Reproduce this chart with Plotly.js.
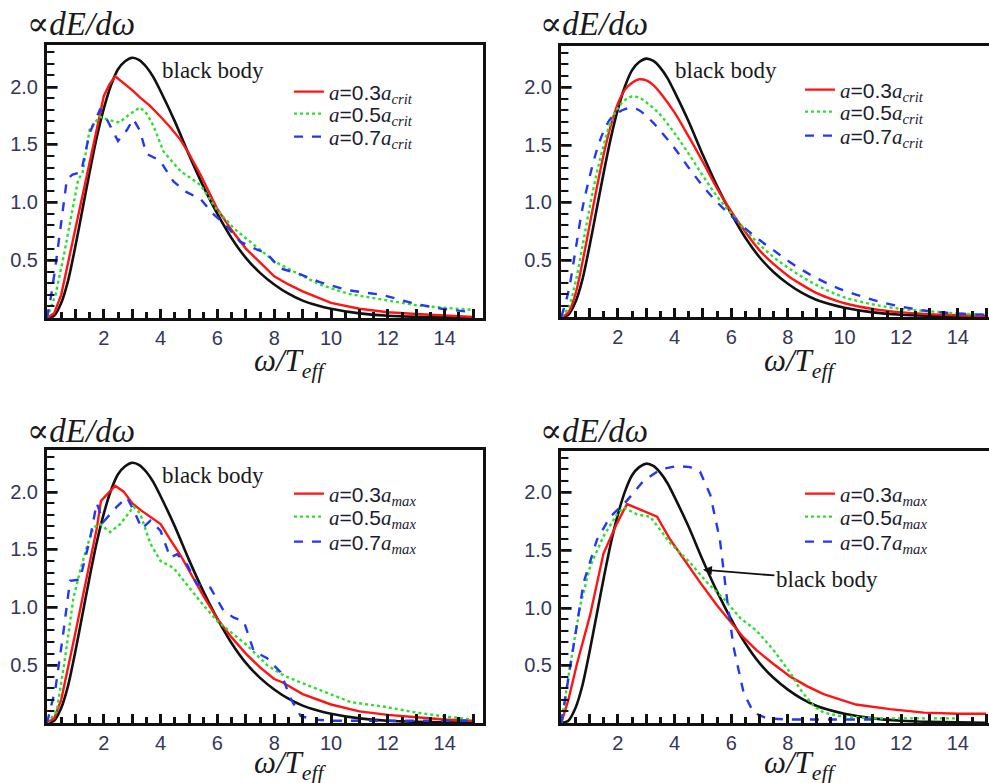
<!DOCTYPE html>
<html>
<head>
<meta charset="utf-8">
<script src="https://cdn.plot.ly/plotly-3.0.1.min.js"></script>
<style>html,body{margin:0;padding:0;background:#fff;}#chart{width:989px;height:783px;}</style>
</head>
<body>
<div id="chart"></div>
<script>
// ---------- data ----------
const bbX = [0,0.25,0.5,0.75,1,1.25,1.5,1.75,2,2.25,2.5,2.75,3,3.25,3.5,3.75,4,4.5,5,5.5,6,6.5,7,7.5,8,8.5,9,9.5,10,11,12,13,14,15];
const bbY = [0,0.02,0.13,0.33,0.62,0.94,1.26,1.56,1.81,2.01,2.15,2.22,2.25,2.23,2.17,2.08,1.96,1.70,1.41,1.14,0.90,0.69,0.52,0.39,0.29,0.21,0.15,0.11,0.08,0.04,0.02,0.01,0.005,0.002];

// panel 1 : a_crit (upper left)
const p1RedX = [0,0.25,0.5,0.75,1,1.25,1.5,1.75,2,2.2,2.4,2.7,3,3.3,3.6,4,4.3,4.7,5,5.4,6,6.5,7,7.5,8,8.5,9,9.5,10,11,12,13,14,15];
const p1RedY = [0,0.04,0.2,0.48,0.76,1.05,1.34,1.63,1.92,2.02,2.09,2.03,1.97,1.9,1.84,1.74,1.66,1.54,1.42,1.24,0.94,0.76,0.6,0.48,0.36,0.29,0.23,0.18,0.13,0.08,0.05,0.035,0.02,0.01];
const p1GreenX = [0,0.3,0.6,0.9,1.1,1.25,1.5,1.85,2.2,2.55,2.9,3.27,3.5,3.75,4.1,4.7,5.4,6,6.6,7.3,8,8.7,9.6,10.6,11.8,13,13.9,15];
const p1GreenY = [0,0.2,0.55,0.94,1.2,1.25,1.63,1.74,1.71,1.69,1.76,1.82,1.77,1.66,1.44,1.27,1.15,0.93,0.77,0.63,0.49,0.4,0.29,0.21,0.16,0.11,0.09,0.07];
const p1BlueX = [0,0.15,0.3,0.5,0.7,0.9,1.2,1.5,1.86,2.1,2.3,2.5,2.8,3.04,3.27,3.5,3.98,4.45,4.9,5.4,5.85,6.3,6.8,7.4,7.73,8.2,8.9,9.6,10.6,11.8,13,13.9,15];
const p1BlueY = [0,0.2,0.45,0.85,1.2,1.24,1.26,1.6,1.8,1.72,1.62,1.53,1.62,1.72,1.62,1.42,1.36,1.18,1.09,1.03,0.9,0.8,0.66,0.59,0.56,0.43,0.38,0.31,0.24,0.2,0.12,0.08,0.05];

// panel 2 : a_crit (upper right)
const p2X = [0,0.25,0.5,0.75,1,1.25,1.5,1.75,2,2.25,2.5,2.75,3,3.25,3.5,4,4.5,5,5.5,6,6.5,7,7.5,8,8.5,9,9.5,10,11,12,13,14,15];
const p2RedY = [0,0.04,0.2,0.48,0.8,1.12,1.42,1.67,1.86,1.98,2.04,2.07,2.06,2.02,1.95,1.78,1.57,1.35,1.12,0.92,0.74,0.58,0.46,0.36,0.28,0.21,0.16,0.12,0.07,0.04,0.025,0.015,0.01];
const p2GreenY = [0,0.08,0.3,0.62,0.95,1.25,1.5,1.7,1.82,1.89,1.92,1.91,1.87,1.82,1.76,1.6,1.42,1.23,1.05,0.9,0.76,0.63,0.52,0.43,0.35,0.28,0.22,0.17,0.11,0.07,0.05,0.03,0.02];
const p2BlueY = [0,0.22,0.58,0.95,1.22,1.45,1.62,1.73,1.78,1.81,1.82,1.8,1.75,1.69,1.62,1.47,1.3,1.14,1.0,0.88,0.77,0.67,0.58,0.49,0.41,0.34,0.28,0.23,0.15,0.09,0.05,0.03,0.02];

// panel 3 : a_max (lower left)
const p3RedX = [0,0.25,0.5,0.75,1,1.25,1.5,1.75,1.9,2.1,2.4,2.7,3,3.3,3.6,4,4.3,4.7,5,5.5,6,6.5,7,7.5,8,8.3,9,10,11,12,13,14,15];
const p3RedY = [0,0.04,0.2,0.48,0.78,1.08,1.38,1.68,1.92,1.97,2.05,2.0,1.9,1.84,1.79,1.72,1.6,1.45,1.32,1.1,0.9,0.74,0.6,0.48,0.38,0.35,0.25,0.16,0.1,0.07,0.05,0.03,0.02];
const p3GreenX = [0,0.34,0.6,0.93,1.16,1.4,1.64,1.87,2.22,2.58,3.05,3.28,3.64,4,4.46,4.9,5.4,6,6.6,7.05,7.75,8.34,8.93,9.75,10.7,11.9,13,13.9,15];
const p3GreenY = [0,0.1,0.5,1.08,1.31,1.52,1.69,1.72,1.65,1.72,1.87,1.81,1.55,1.4,1.34,1.2,1.05,0.88,0.76,0.67,0.5,0.41,0.35,0.27,0.18,0.14,0.09,0.06,0.03];
const p3BlueX = [0,0.3,0.58,0.81,1.16,1.52,1.75,1.99,2.46,2.81,3.05,3.34,3.64,4,4.34,4.58,4.93,5.28,5.75,6.22,6.58,6.93,7.28,7.75,8.22,8.58,8.93,9.4,10,12,14,15];
const p3BlueY = [0,0.3,0.79,1.23,1.24,1.6,1.9,1.74,1.87,1.95,1.84,1.68,1.75,1.66,1.43,1.46,1.37,1.2,1.17,0.97,0.91,0.88,0.62,0.56,0.44,0.21,0.06,0.03,0.02,0.02,0.02,0.02];

// panel 4 : a_max (lower right)
const p4RedX = [0,0.25,0.55,1.02,1.49,1.96,2.32,2.6,2.9,3.38,3.85,4.32,4.9,5.5,5.96,6.44,6.9,7.5,8.1,8.67,9.26,9.85,10.4,11.6,12.8,14,15];
const p4RedY = [0,0.2,0.51,0.94,1.47,1.73,1.9,1.87,1.84,1.79,1.59,1.42,1.22,1.02,0.88,0.74,0.63,0.51,0.4,0.32,0.25,0.2,0.16,0.12,0.09,0.08,0.08];
const p4GreenX = [0,0.32,0.67,1.02,1.49,1.96,2.2,2.67,3.14,3.85,4.55,5.14,5.73,6.32,6.9,7.5,8.1,8.44,8.9,9.26,9.85,11,12,13,14];
const p4GreenY = [0,0.51,1.02,1.36,1.62,1.81,1.87,1.81,1.79,1.56,1.39,1.22,1.08,0.91,0.8,0.63,0.43,0.29,0.15,0.09,0.06,0.04,0.04,0.04,0.04];
const p4BlueX = [0,0.32,0.79,1.26,1.73,2.32,2.9,3.5,4.08,4.55,4.9,5.26,5.6,5.85,6.08,6.44,6.79,7.26,8,9,10,11];
const p4BlueY = [0,0.51,1.22,1.59,1.79,1.93,2.1,2.2,2.23,2.22,2.18,1.98,1.59,1.08,0.66,0.26,0.09,0.04,0.03,0.03,0.03,0.03];

const xTickVals = [1,2,3,4,5,6,7,8,9,10,11,12,13,14,15];
const xTickText = ['','2','','4','','6','','8','','10','','12','','14',''];
const yTickVals = [0.5,1,1.5,2];
const yTickText = ['0.5','1.0','1.5','2.0'];
const yMinorStep = 0.1;
const yTickMax = 2.3;

const coeffs = ['0.3','0.5','0.7'];
const subs = ['crit','crit','max','max'];

// ---------- styling ----------
const W = 989, H = 783;
const RED = '#ff1414', GREEN = '#2be02b', BLUE = '#2438f0', BLACK = '#111111';
const SERIF = 'Liberation Serif, DejaVu Serif, serif';
const SANS = 'Liberation Sans, Arial, sans-serif';
const TICKFONT = {family: SANS, size: 20, color: '#35365a'};

function label(c, s) {
  return '<span style="font-family:Liberation Serif"><i>a</i></span>=' + c +
         '<span style="font-family:Liberation Serif"><i>a</i></span><sub><span style="font-family:Liberation Serif"><i>' + s + '</i></span></sub>';
}

const panels = [
  {xs:[47,483], ys:[45,318], xr:[0,15.35], red:[p1RedX,p1RedY], green:[p1GreenX,p1GreenY], blue:[p1BlueX,p1BlueY], right:false, rows:[92,114,137]},
  {xs:[561,989], ys:[46,317], xr:[-0.01,15.1], red:[p2X,p2RedY], green:[p2X,p2GreenY], blue:[p2X,p2BlueY], right:true, rows:[90,112,136]},
  {xs:[47,483], ys:[450,723], xr:[0,15.35], red:[p3RedX,p3RedY], green:[p3GreenX,p3GreenY], blue:[p3BlueX,p3BlueY], right:false, rows:[494,517,542]},
  {xs:[561,989], ys:[451,723], xr:[-0.01,15.1], red:[p4RedX,p4RedY], green:[p4GreenX,p4GreenY], blue:[p4BlueX,p4BlueY], right:true, rows:[494,517,542]}
];

const data = [];
const layout = {
  width: W, height: H,
  margin: {l:0, r:0, t:0, b:0},
  paper_bgcolor: '#fff', plot_bgcolor: '#fff',
  showlegend: true,
  annotations: []
};

let legendCount = 0;
panels.forEach((p, i) => {
  const n = i === 0 ? '' : String(i + 1);
  const xa = 'x' + n, ya = 'y' + n;
  data.push({x: bbX, y: bbY, xaxis: xa, yaxis: ya, type: 'scatter', mode: 'lines',
    line: {color: BLACK, width: 2.6, shape: 'spline', smoothing: 0.6}, showlegend: false, hoverinfo: 'skip'});
  const styles = [
    {key:'red', color: RED, dash:'solid', width: 2.4},
    {key:'green', color: GREEN, dash:'dot', width: 2.4},
    {key:'blue', color: BLUE, dash:'dash', width: 2.4}
  ];
  styles.forEach((s, k) => {
    legendCount += 1;
    const lg = legendCount === 1 ? 'legend' : 'legend' + legendCount;
    data.push({x: p[s.key][0], y: p[s.key][1], xaxis: xa, yaxis: ya, type: 'scatter', mode: 'lines',
      line: {color: s.color, width: s.width, dash: s.dash, shape: (i === 1 ? 'spline' : 'linear')},
      name: label(coeffs[k], subs[i]), legend: lg, showlegend: true});
    layout[lg] = {
      x: (p.right ? 800 : 289) / W, y: 1 - p.rows[k] / H, xanchor: 'left', yanchor: 'middle',
      bgcolor: 'rgba(0,0,0,0)', borderwidth: 0,
      font: {family: SANS, size: 21, color: '#1c1c2e'},
      itemwidth: 30
    };
  });

  const common = {
    showline: true, linecolor: BLACK, linewidth: 3, mirror: true,
    showgrid: false, zeroline: false,
    tickfont: TICKFONT
  };
  layout['xaxis' + n] = Object.assign({}, common, {
    domain: [p.xs[0] / W, p.xs[1] / W], range: p.xr, anchor: ya,
    ticks: 'inside', tickcolor: BLACK, tickwidth: 3, ticklen: 9,
    tickmode: 'array', tickvals: xTickVals, ticktext: xTickText,
    minor: {ticks: 'inside', dtick: 0.5, ticklen: 6, tickwidth: 3, tickcolor: BLACK}
  });
  layout['yaxis' + n] = Object.assign({}, common, {
    domain: [1 - p.ys[1] / H, 1 - p.ys[0] / H], range: [0, 2.36], anchor: xa,
    mirror: p.right ? false : true,
    ticks: '', ticklabelstandoff: 2,
    tickmode: 'array', tickvals: yTickVals, ticktext: yTickText
  });

  // inward y tick marks, placed on the y scale as bar glyphs at the left edge of the plot area
  for (let k = 1; k * yMinorStep <= yTickMax + 1e-9; k++) {
    const v = Math.round(k * yMinorStep * 10) / 10;
    const major = yTickVals.some(t => Math.abs(t - v) < 1e-9);
    layout.annotations.push({xref: xa + ' domain', yref: ya, x: 0, y: v, xanchor: 'left', yanchor: 'middle',
      text: '━', showarrow: false, borderpad: 0, borderwidth: 0, xshift: -1,
      font: {family: 'DejaVu Sans Mono, monospace', size: major ? 17 : 12, color: BLACK}});
  }

  // y title  ∝dE/dω
  const cx = p.right ? 594 : 81;
  const ty = i < 2 ? 24 : 431;
  layout.annotations.push({xref:'paper', yref:'paper', x: cx / W, y: 1 - ty / H, xanchor:'center', yanchor:'middle',
    text: '∝<i>dE/dω</i>', showarrow: false, font: {family: SERIF, size: 33, color: '#1a1a1a'}});
  // x title  ω/T_eff
  const xcx = p.right ? 800 : 290;
  const xty = i < 2 ? 363 : 765;
  layout.annotations.push({xref:'paper', yref:'paper', x: xcx / W, y: 1 - xty / H, xanchor:'center', yanchor:'middle',
    text: '<i>ω/T</i><sub><i>eff</i></sub>', showarrow: false, font: {family: SERIF, size: 31, color: '#1a1a1a'}});
});

// "black body" labels
const bbLabelFont = {family: SERIF, size: 23, color: '#1a1a1a'};
layout.annotations.push({xref:'paper', yref:'paper', x: 213 / W, y: 1 - 71 / H, xanchor:'center', yanchor:'middle', text:'black body', showarrow:false, font: bbLabelFont});
layout.annotations.push({xref:'paper', yref:'paper', x: 726 / W, y: 1 - 71 / H, xanchor:'center', yanchor:'middle', text:'black body', showarrow:false, font: bbLabelFont});
layout.annotations.push({xref:'paper', yref:'paper', x: 213 / W, y: 1 - 475 / H, xanchor:'center', yanchor:'middle', text:'black body', showarrow:false, font: bbLabelFont});
layout.annotations.push({xref:'x4', yref:'y4', x: 5.0, y: 1.33, text:'black body', showarrow:true,
  ax: 124, ay: 10, arrowhead: 2, arrowsize: 1, arrowwidth: 1.8, arrowcolor: BLACK, font: bbLabelFont});

Plotly.newPlot('chart', data, layout, {displayModeBar: false});
</script>
</body>
</html>
